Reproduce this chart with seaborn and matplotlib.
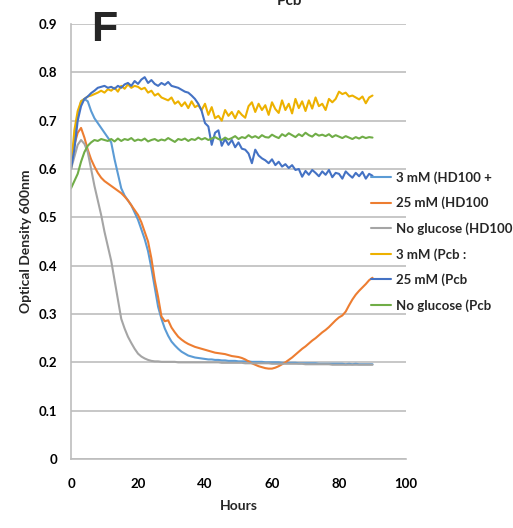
import matplotlib
matplotlib.use("Agg")
import matplotlib.pyplot as plt
import seaborn as sns
import pandas as pd

hours = list(range(0, 91))

hd100_3mm = [0.62, 0.66, 0.71, 0.74, 0.745, 0.74, 0.72, 0.705, 0.695, 0.685,
             0.675, 0.665, 0.655, 0.62, 0.59, 0.56, 0.545, 0.535, 0.525, 0.51,
             0.495, 0.475, 0.455, 0.43, 0.395, 0.355, 0.315, 0.29, 0.27, 0.255,
             0.243, 0.235, 0.228, 0.222, 0.218, 0.214, 0.212, 0.21, 0.209, 0.208,
             0.207, 0.206, 0.206, 0.205, 0.205, 0.204, 0.204, 0.203, 0.203, 0.203,
             0.202, 0.202, 0.202, 0.202, 0.201, 0.201, 0.201, 0.201, 0.2, 0.2,
             0.2, 0.2, 0.2, 0.199, 0.199, 0.199, 0.199, 0.199, 0.198, 0.198,
             0.198, 0.198, 0.198, 0.198, 0.197, 0.197, 0.197, 0.197, 0.197, 0.197,
             0.197, 0.197, 0.196, 0.197, 0.196, 0.197, 0.196, 0.196, 0.196, 0.196, 0.196]

hd100_25mm = [0.62, 0.65, 0.675, 0.685, 0.665, 0.64, 0.62, 0.605, 0.592, 0.582,
              0.575, 0.57, 0.565, 0.56, 0.555, 0.55, 0.543, 0.535, 0.525, 0.515,
              0.505, 0.49, 0.47, 0.45, 0.415, 0.37, 0.335, 0.295, 0.285, 0.287,
              0.272, 0.262, 0.253, 0.247, 0.242, 0.238, 0.235, 0.232, 0.23, 0.228,
              0.226, 0.224, 0.222, 0.22, 0.219, 0.218, 0.217, 0.215, 0.213, 0.212,
              0.211, 0.209, 0.206, 0.202, 0.198, 0.195, 0.192, 0.19, 0.188, 0.187,
              0.187, 0.189, 0.192, 0.196, 0.2, 0.205, 0.21, 0.216, 0.222, 0.228,
              0.233, 0.239, 0.245, 0.25, 0.256, 0.262, 0.267, 0.273, 0.28, 0.287,
              0.293, 0.297, 0.305, 0.318, 0.33, 0.34, 0.348, 0.355, 0.362, 0.37, 0.375]

hd100_noglc = [0.6, 0.625, 0.65, 0.66, 0.652, 0.635, 0.6, 0.565, 0.535, 0.505,
               0.47, 0.44, 0.41, 0.37, 0.33, 0.29, 0.27, 0.253, 0.24, 0.228,
               0.218, 0.212, 0.208, 0.205, 0.203, 0.202, 0.202, 0.201, 0.201, 0.201,
               0.201, 0.201, 0.2, 0.2, 0.2, 0.2, 0.2, 0.2, 0.2, 0.2,
               0.2, 0.2, 0.2, 0.2, 0.2, 0.199, 0.199, 0.199, 0.199, 0.199,
               0.199, 0.199, 0.198, 0.198, 0.198, 0.198, 0.198, 0.198, 0.198, 0.198,
               0.197, 0.197, 0.197, 0.197, 0.197, 0.197, 0.197, 0.197, 0.197, 0.197,
               0.196, 0.196, 0.196, 0.196, 0.196, 0.196, 0.196, 0.196, 0.195, 0.195,
               0.195, 0.195, 0.195, 0.195, 0.195, 0.195, 0.195, 0.195, 0.195, 0.195, 0.195]

pcb_3mm = [0.6, 0.68, 0.72, 0.74, 0.745, 0.75, 0.752, 0.755, 0.758, 0.762,
           0.758, 0.765, 0.762, 0.768, 0.76, 0.772, 0.766, 0.775, 0.768, 0.772,
           0.77, 0.765, 0.768, 0.758, 0.762, 0.752, 0.756, 0.748, 0.745, 0.742,
           0.748, 0.735, 0.74, 0.73, 0.738, 0.726, 0.74, 0.728, 0.732, 0.722,
           0.735, 0.712, 0.728, 0.705, 0.71, 0.7, 0.722, 0.71, 0.718, 0.705,
           0.72, 0.712, 0.706, 0.73, 0.738, 0.718, 0.735, 0.722, 0.732, 0.712,
           0.738, 0.724, 0.716, 0.742, 0.722, 0.735, 0.715, 0.745, 0.726, 0.74,
           0.72, 0.742, 0.725, 0.748, 0.73, 0.735, 0.722, 0.745, 0.738, 0.745,
           0.76, 0.755, 0.758, 0.75, 0.752, 0.748, 0.744, 0.75, 0.736, 0.748, 0.752]

pcb_25mm = [0.6, 0.64, 0.7, 0.73, 0.745, 0.75, 0.757, 0.762, 0.768, 0.77,
            0.772, 0.768, 0.77, 0.766, 0.772, 0.768, 0.775, 0.778, 0.772, 0.782,
            0.776, 0.785, 0.79, 0.778, 0.784, 0.776, 0.772, 0.778, 0.774, 0.78,
            0.772, 0.77, 0.768, 0.764, 0.76, 0.758, 0.752, 0.745, 0.735, 0.72,
            0.695, 0.688, 0.65, 0.675, 0.68, 0.648, 0.662, 0.65, 0.66, 0.645,
            0.655, 0.642, 0.64, 0.632, 0.612, 0.64, 0.628, 0.622, 0.618, 0.612,
            0.62, 0.608, 0.615, 0.605, 0.61, 0.602, 0.608, 0.598, 0.6, 0.584,
            0.596, 0.588, 0.598, 0.592, 0.585, 0.595, 0.588, 0.598, 0.583, 0.592,
            0.59, 0.58, 0.595, 0.588, 0.582, 0.592, 0.585, 0.594, 0.58, 0.59, 0.586]

pcb_noglc = [0.56, 0.575, 0.59, 0.615, 0.635, 0.648, 0.655, 0.66, 0.658, 0.662,
             0.66, 0.658, 0.662, 0.657, 0.663, 0.658, 0.662, 0.66, 0.664, 0.658,
             0.661, 0.659, 0.663, 0.657, 0.66, 0.662, 0.658, 0.661, 0.659, 0.664,
             0.66, 0.656, 0.662, 0.66, 0.663, 0.658, 0.662, 0.66, 0.665, 0.661,
             0.664, 0.66, 0.663, 0.666, 0.662, 0.66, 0.665, 0.661, 0.664, 0.668,
             0.662, 0.666, 0.664, 0.67, 0.665, 0.668, 0.664, 0.67, 0.666, 0.665,
             0.671, 0.667, 0.664, 0.672, 0.668, 0.674, 0.67, 0.666, 0.672, 0.668,
             0.675, 0.67, 0.667, 0.673, 0.669, 0.671, 0.668, 0.672, 0.666, 0.67,
             0.667, 0.664, 0.668, 0.665, 0.662, 0.666, 0.663, 0.667, 0.664, 0.666, 0.665]

series_labels = ["3 mM (HD100 +", "25 mM (HD100", "No glucose (HD100",
                 "3 mM (Pcb :", "25 mM (Pcb", "No glucose (Pcb"]
series_colors = ["#5B9BD5", "#ED7D31", "#A5A5A5", "#EDB100", "#4472C4", "#70AD47"]
y_ticks = [0, 0.1, 0.2, 0.3, 0.4, 0.5, 0.6, 0.7, 0.8, 0.9]
y_tick_labels = ["0", "0.1", "0.2", "0.3", "0.4", "0.5", "0.6", "0.7", "0.8", "0.9"]
x_ticks = [0, 20, 40, 60, 80, 100]

all_series = [hd100_3mm, hd100_25mm, hd100_noglc, pcb_3mm, pcb_25mm, pcb_noglc]
frames = []
for lab, vals in zip(series_labels, all_series):
    frames.append(pd.DataFrame({"Hours": hours, "OD": vals, "Series": lab}))
df = pd.concat(frames, ignore_index=True)

sns.set_style("white")
plt.rcParams["font.family"] = ["Lato", "DejaVu Sans"]
plt.rcParams["font.weight"] = "bold"

fig = plt.figure(figsize=(5.13, 5.28), dpi=100)
ax = fig.add_axes([71 / 513, 1 - 459 / 528, 335 / 513, 435 / 528])

sns.lineplot(data=df, x="Hours", y="OD", hue="Series", hue_order=series_labels,
             palette=dict(zip(series_labels, series_colors)), linewidth=1.5,
             ax=ax, legend=True)

ax.set_xlim(0, 100)
ax.set_ylim(0, 0.9)
ax.set_yticks(y_ticks)
ax.set_yticklabels(y_tick_labels)
ax.set_xticks(x_ticks)
ax.yaxis.grid(True, color="#BDBDBD", linewidth=1.2)
ax.xaxis.grid(False)
ax.set_axisbelow(True)
for s in ["top", "right"]:
    ax.spines[s].set_visible(False)
for s in ["left", "bottom"]:
    ax.spines[s].set_color("#BDBDBD")
    ax.spines[s].set_linewidth(1.2)
ax.tick_params(axis="both", length=0, labelsize=9.5, colors="black")
ax.tick_params(axis="y", pad=10)
ax.tick_params(axis="x", pad=14)
for t in ax.get_xticklabels() + ax.get_yticklabels():
    t.set_fontweight("bold")

ax.set_xlabel("Hours", fontsize=10, fontweight="bold", labelpad=7)
ax.set_ylabel("Optical Density 600nm", fontsize=10, fontweight="bold", labelpad=5)

leg = ax.legend(loc="upper left", bbox_to_anchor=(371 / 513, 1 - 171 / 528),
                bbox_transform=fig.transFigure, frameon=False, borderpad=0,
                borderaxespad=0, handlelength=1.55, handletextpad=0.35,
                labelspacing=0.98, prop={"size": 9.5, "weight": "bold"})

fig.text(104 / 513, 1 - 30 / 528, "F", fontsize=31, fontweight="bold",
         ha="center", va="center", family=["Liberation Sans", "DejaVu Sans"])
fig.text(290 / 513, 0.998, "Pcb", fontsize=11, fontweight="bold", ha="center", va="center")

fig.savefig("out.png", dpi=100)
